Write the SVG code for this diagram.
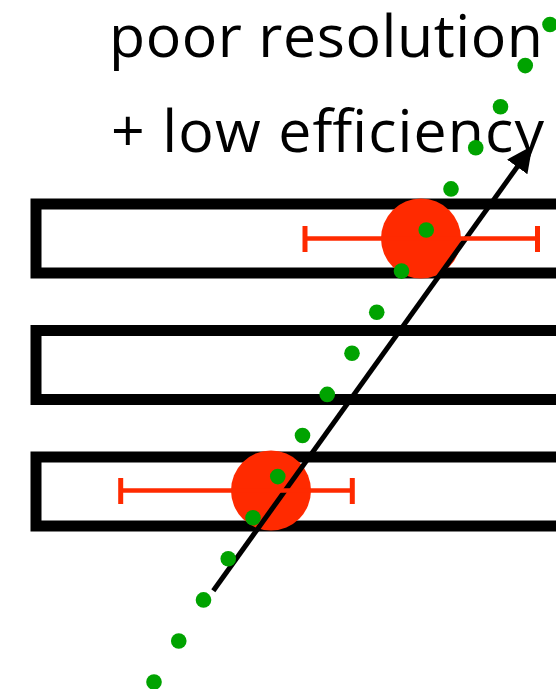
<svg xmlns="http://www.w3.org/2000/svg" width="556" height="689" viewBox="0 0 556 689">
<style>
.box{fill:none;stroke:#000;stroke-width:11}
.hit{fill:#ff2a00}
.bar{stroke:#ff2a00;stroke-width:4.5;fill:none}
.cap{stroke:#ff2a00;stroke-width:5;fill:none}
.dot{fill:#00a300}
.lbl{font-family:"Open Sans","Liberation Sans",sans-serif;font-size:59px;fill:#000}
.trk{stroke:#000;stroke-width:5;fill:none}
</style>
<defs>
<marker id="head" markerUnits="userSpaceOnUse" markerWidth="30" markerHeight="30" refX="1" refY="12.5" orient="auto">
<path d="M0,0 L26,12.5 L0,25 z" fill="#000"/>
</marker>
</defs>
<rect width="556" height="689" fill="#fff"/>
<g id="labels">
<text class="lbl" x="109" y="56.5" textLength="434" lengthAdjust="spacing">poor resolution</text>
<text class="lbl" x="111" y="152" textLength="433" lengthAdjust="spacing">+ low efficiency</text>
</g>
<g id="layers">
<g id="layer1"><rect class="box" x="36" y="204" width="530" height="69"/></g>
<g id="layer2"><rect class="box" x="36" y="330.5" width="530" height="69"/></g>
<g id="layer3"><rect class="box" x="36" y="457" width="530" height="69"/></g>
</g>
<g id="hits">
<circle class="hit" cx="421" cy="238.5" r="40"/>
<circle class="hit" cx="271" cy="490.5" r="40"/>
</g>
<g id="connectors">
<line class="trk" x1="213.3" y1="590.7" x2="517.8" y2="166.1" marker-end="url(#head)"/>
</g>
<g id="errorbars">
<g id="err1"><line class="bar" x1="305" y1="238.5" x2="537.5" y2="238.5"/><line class="cap" x1="305" y1="226" x2="305" y2="252"/><line class="cap" x1="537.5" y1="226" x2="537.5" y2="252"/></g>
<g id="err2"><line class="bar" x1="120.7" y1="490.5" x2="352.3" y2="490.5"/><line class="cap" x1="120.7" y1="478" x2="120.7" y2="504"/><line class="cap" x1="352.3" y1="478" x2="352.3" y2="504"/></g>
</g>
<g id="dots">
<circle class="dot" cx="550" cy="24.5" r="7.8"/>
<circle class="dot" cx="525.25" cy="65.6" r="7.8"/>
<circle class="dot" cx="500.5" cy="106.7" r="7.8"/>
<circle class="dot" cx="475.75" cy="147.8" r="7.8"/>
<circle class="dot" cx="451" cy="188.9" r="7.8"/>
<circle class="dot" cx="426.25" cy="230" r="7.8"/>
<circle class="dot" cx="401.5" cy="271.1" r="7.8"/>
<circle class="dot" cx="376.75" cy="312.2" r="7.8"/>
<circle class="dot" cx="352" cy="353.3" r="7.8"/>
<circle class="dot" cx="327.25" cy="394.4" r="7.8"/>
<circle class="dot" cx="302.5" cy="435.5" r="7.8"/>
<circle class="dot" cx="277.75" cy="476.6" r="7.8"/>
<circle class="dot" cx="253" cy="517.7" r="7.8"/>
<circle class="dot" cx="228.25" cy="558.8" r="7.8"/>
<circle class="dot" cx="203.5" cy="599.9" r="7.8"/>
<circle class="dot" cx="178.75" cy="641" r="7.8"/>
<circle class="dot" cx="154" cy="682.1" r="7.8"/>
</g>
</svg>
